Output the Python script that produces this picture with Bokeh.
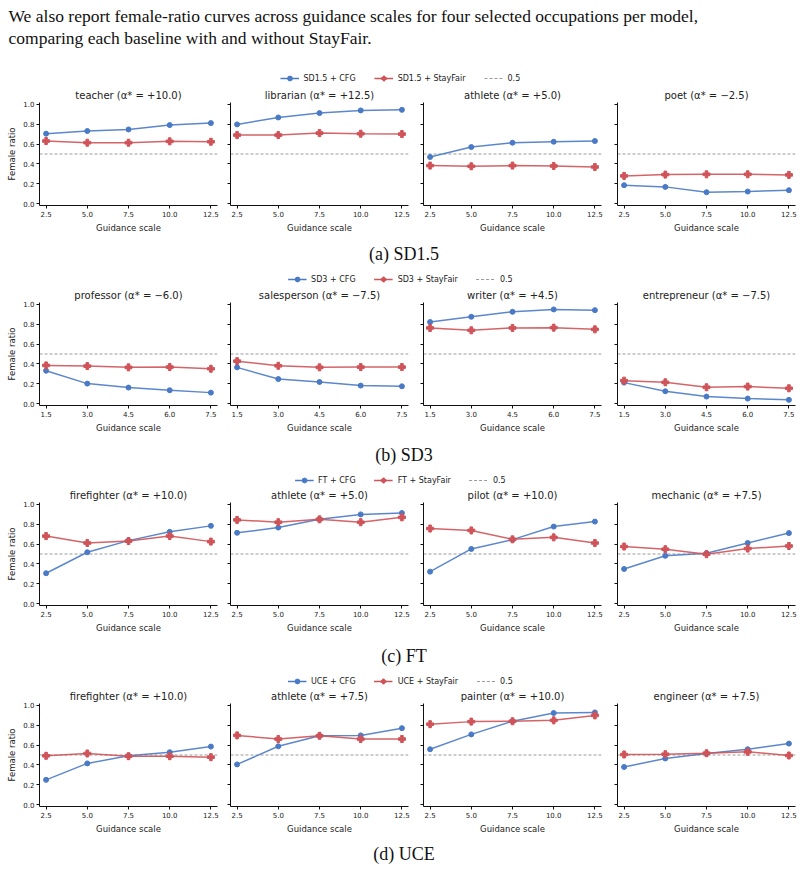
from bokeh.plotting import figure
from bokeh.layouts import column, row
from bokeh.models import Range1d, FixedTicker, Span, Label, Legend, LegendItem
from bokeh.embed import file_html
from bokeh.resources import INLINE

# ---------------- data ----------------
intro_lines = [
    "We also report female-ratio curves across guidance scales for four selected occupations per model,",
    "comparing each baseline with and without StayFair.",
]

y_ticks = [0.0, 0.2, 0.4, 0.6, 0.8, 1.0]
y_tick_labels = ["0.0", "0.2", "0.4", "0.6", "0.8", "1.0"]

scales_a = [2.5, 5.0, 7.5, 10.0, 12.5]
scale_labels_a = ["2.5", "5.0", "7.5", "10.0", "12.5"]
scales_b = [1.5, 3.0, 4.5, 6.0, 7.5]
scale_labels_b = ["1.5", "3.0", "4.5", "6.0", "7.5"]

sd15_titles = ["teacher (α* = +10.0)", "librarian (α* = +12.5)", "athlete (α* = +5.0)", "poet (α* = −2.5)"]
sd15_cfg = [[0.705, 0.732, 0.748, 0.792, 0.812],
            [0.799, 0.869, 0.913, 0.940, 0.946],
            [0.470, 0.570, 0.614, 0.624, 0.631],
            [0.185, 0.168, 0.114, 0.121, 0.134]]
sd15_sf = [[0.631, 0.614, 0.614, 0.628, 0.624],
           [0.691, 0.691, 0.711, 0.705, 0.701],
           [0.383, 0.376, 0.383, 0.379, 0.369],
           [0.279, 0.292, 0.295, 0.295, 0.289]]

sd3_titles = ["professor (α* = −6.0)", "salesperson (α* = −7.5)", "writer (α* = +4.5)", "entrepreneur (α* = −7.5)"]
sd3_cfg = [[0.331, 0.201, 0.161, 0.134, 0.110],
           [0.365, 0.247, 0.217, 0.181, 0.174],
           [0.823, 0.876, 0.926, 0.950, 0.943],
           [0.211, 0.124, 0.070, 0.050, 0.037]]
sd3_sf = [[0.385, 0.378, 0.365, 0.368, 0.351],
          [0.428, 0.381, 0.365, 0.368, 0.368],
          [0.763, 0.739, 0.763, 0.766, 0.749],
          [0.231, 0.214, 0.164, 0.171, 0.154]]

ft_titles = ["firefighter (α* = +10.0)", "athlete (α* = +5.0)", "pilot (α* = +10.0)", "mechanic (α* = +7.5)"]
ft_cfg = [[0.306, 0.518, 0.635, 0.724, 0.784],
          [0.714, 0.767, 0.850, 0.900, 0.914],
          [0.322, 0.551, 0.645, 0.777, 0.827],
          [0.349, 0.482, 0.508, 0.611, 0.711]]
ft_sf = [[0.681, 0.611, 0.631, 0.681, 0.625],
         [0.844, 0.821, 0.850, 0.821, 0.870],
         [0.757, 0.738, 0.648, 0.668, 0.611],
         [0.575, 0.548, 0.498, 0.555, 0.581]]

uce_titles = ["firefighter (α* = +10.0)", "athlete (α* = +7.5)", "painter (α* = +10.0)", "engineer (α* = +7.5)"]
uce_cfg = [[0.249, 0.415, 0.492, 0.528, 0.585],
           [0.405, 0.588, 0.694, 0.698, 0.771],
           [0.558, 0.708, 0.841, 0.924, 0.930],
           [0.379, 0.465, 0.515, 0.558, 0.615]]
uce_sf = [[0.492, 0.515, 0.488, 0.488, 0.478],
          [0.698, 0.661, 0.694, 0.661, 0.661],
          [0.811, 0.837, 0.841, 0.850, 0.900],
          [0.505, 0.508, 0.518, 0.532, 0.495]]

model_names = ["SD1.5", "SD3", "FT", "UCE"]
captions = ["(a) SD1.5", "(b) SD3", "(c) FT", "(d) UCE"]
parity_level = 0.5

# ---------------- style ----------------
BLUE = "#4A7AC6"
RED = "#CF5358"
GRAY = "#9a9a9a"
TXT = "#222222"
SANS = "DejaVu Sans"
SERIF = "Liberation Serif"
W = 807
NAN = float("nan")

rows_spec = [
    (sd15_titles, sd15_cfg, sd15_sf, scales_a, scale_labels_a),
    (sd3_titles, sd3_cfg, sd3_sf, scales_b, scale_labels_b),
    (ft_titles, ft_cfg, ft_sf, scales_a, scale_labels_a),
    (uce_titles, uce_cfg, uce_sf, scales_a, scale_labels_a),
]

borders = [(39, 6), (7, 6), (9, 6), (10, 12)]


def band(h):
    b = figure(width=W, height=h, x_range=Range1d(0, W), y_range=Range1d(h, 0),
               x_axis_type=None, y_axis_type=None, min_border=0,
               toolbar_location=None, output_backend="svg")
    b.grid.visible = False
    b.outline_line_color = None
    return b


def add_legend(b, name, margin):
    # legend-only renderers: a single NaN point, so nothing is drawn in the band itself
    l1 = b.line(x=[NAN], y=[NAN], line_color=BLUE, line_width=1.5)
    m1 = b.scatter(x=[NAN], y=[NAN], marker="circle", size=5, fill_color=BLUE, line_color=BLUE)
    l2 = b.line(x=[NAN], y=[NAN], line_color=RED, line_width=1.5)
    m2 = b.scatter(x=[NAN], y=[NAN], marker="plus", size=7, fill_color=RED, line_color=RED)
    l3 = b.line(x=[NAN], y=[NAN], line_color=GRAY, line_width=1, line_dash="3 2")
    leg = Legend(items=[LegendItem(label=f"{name} + CFG", renderers=[l1, m1]),
                        LegendItem(label=f"{name} + StayFair", renderers=[l2, m2]),
                        LegendItem(label=f"{parity_level}", renderers=[l3])],
                 orientation="horizontal", location="bottom_center", margin=margin,
                 padding=0, spacing=18, label_standoff=5, glyph_width=19,
                 glyph_height=12, label_height=12,
                 label_text_font=SANS, label_text_font_size="8px", label_text_color=TXT,
                 border_line_color=None, background_fill_alpha=0)
    b.add_layout(leg)


def add_caption(b, text, y):
    b.add_layout(Label(x=W / 2, y=y, text=text, text_align="center", text_baseline="middle",
                       text_font=SERIF, text_font_size="18px", text_color="#111111"))


def panel(title, xs, cfg, sf, ticks, tick_labels, idx):
    pad = (ticks[-1] - ticks[0]) * 0.04
    bl, br = borders[idx]
    p = figure(frame_width=178, frame_height=103,
               x_range=Range1d(ticks[0] - pad, ticks[-1] + pad), y_range=Range1d(-0.02, 1.02),
               min_border_left=bl, min_border_right=br, min_border_top=16, min_border_bottom=32,
               toolbar_location=None, output_backend="svg", title=title)
    p.title.text_font = SANS
    p.title.text_font_size = "10px"
    p.title.text_font_style = "normal"
    p.title.text_color = TXT
    p.title.align = "center"
    p.title.standoff = 3
    p.outline_line_color = None
    p.grid.visible = False
    p.background_fill_color = "white"
    p.border_fill_color = "white"

    p.xaxis.ticker = FixedTicker(ticks=ticks)
    p.xaxis.major_label_overrides = {t: s for t, s in zip(ticks, tick_labels)}
    p.yaxis.ticker = FixedTicker(ticks=y_ticks)
    for ax in (p.xaxis, p.yaxis):
        ax.axis_line_color = "#111111"
        ax.axis_line_width = 1
        ax.major_tick_line_color = "#111111"
        ax.major_tick_out = 3
        ax.major_tick_in = 0
        ax.minor_tick_line_color = None
        ax.major_label_text_font = SANS
        ax.major_label_text_font_size = "7px"
        ax.major_label_text_color = TXT
        ax.major_label_standoff = 2
        ax.axis_label_text_font = SANS
        ax.axis_label_text_font_size = "8.5px"
        ax.axis_label_text_font_style = "normal"
        ax.axis_label_text_color = TXT
        ax.axis_label_standoff = 3
    p.xaxis.axis_label = "Guidance scale"
    if idx == 0:
        p.yaxis.axis_label = "Female ratio"
        p.yaxis.major_label_overrides = {t: s for t, s in zip(y_ticks, y_tick_labels)}
    else:
        p.yaxis.major_label_overrides = {t: "" for t in y_ticks}
        p.yaxis.major_label_standoff = 0

    p.add_layout(Span(location=parity_level, dimension="width", line_color=GRAY,
                      line_dash="3 2", line_width=1, level="underlay"))
    p.line(xs, cfg, line_color=BLUE, line_width=1.5, line_alpha=0.9)
    p.scatter(xs, cfg, marker="circle", size=5, fill_color=BLUE, line_color=BLUE)
    p.line(xs, sf, line_color=RED, line_width=1.5, line_alpha=0.9)
    p.scatter(xs, sf, marker="plus", size=7, fill_color=RED, line_color=RED)
    return p


# header band with paragraph and first legend
header = band(86)
header.add_layout(Label(x=8, y=15, text=intro_lines[0], text_baseline="alphabetic",
                        text_font=SERIF, text_font_size="17.5px", text_color="#111111"))
header.add_layout(Label(x=8, y=37, text=intro_lines[1], text_baseline="alphabetic",
                        text_font=SERIF, text_font_size="17.5px", text_color="#111111"))
add_legend(header, model_names[0], 2)

band_heights = [49, 49, 50]
caption_offsets = [16, 17, 18]
legend_margins = [1, 0, 0]

children = [header]
for r, (titles, cfgs, sfs, xs, xl) in enumerate(rows_spec):
    panels = [panel(titles[i], xs, cfgs[i], sfs[i], xs, xl, i) for i in range(4)]
    children.append(row(*panels, spacing=0))
    if r < 3:
        b = band(band_heights[r])
        add_caption(b, captions[r], caption_offsets[r])
        add_legend(b, model_names[r + 1], legend_margins[r])
        children.append(b)
    else:
        b = band(31)
        add_caption(b, captions[r], 15)
        children.append(b)

layout = column(*children, spacing=0)
open("out.html", "w").write(file_html(layout, INLINE))
